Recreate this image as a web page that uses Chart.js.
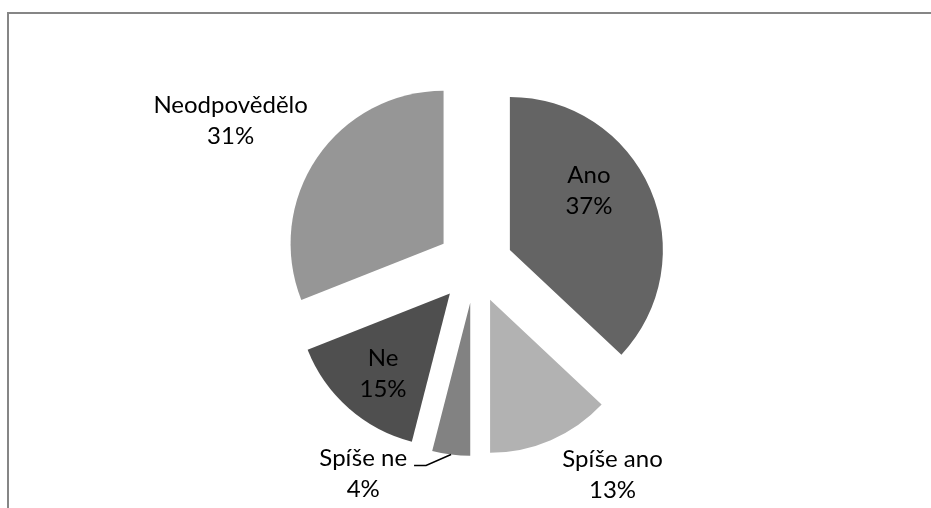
<!DOCTYPE html>
<html>
<head>
<meta charset="utf-8">
<script src="https://cdn.jsdelivr.net/npm/chart.js@4/dist/chart.umd.min.js"></script>
<style>
  html, body { margin: 0; padding: 0; background: #fff; }
  canvas { display: block; }
</style>
</head>
<body>
<canvas id="pie" width="931" height="508"></canvas>
<script>
const categories = ["Ano", "Spíše ano", "Spíše ne", "Ne", "Neodpovědělo"];
const percents = [37, 13, 4, 15, 31];
const sliceColors = ["#646464", "#b2b2b2", "#828282", "#4f4f4f", "#969696"];

// label placement, measured from the centre of its own pulled-out slice:
// deg clockwise from 12 o'clock, dist as a multiple of the pie radius
const labelSpots = [
  { deg: 53, dist: 0.647 },
  { deg: 145, dist: 1.395 },
  { deg: 212, dist: 1.32, leader: true },
  { deg: 220, dist: 0.68 },
  { deg: 300, dist: 1.607 },
];

const EXPLODE = 38;
const FONT = "24px Lato";

// pull every slice out along its middle angle
const explodePlugin = {
  id: "explode",
  afterDatasetsUpdate(chart) {
    chart.getDatasetMeta(0).data.forEach((arc) => {
      const mid = (arc.startAngle + arc.endAngle) / 2;
      arc.x += Math.cos(mid) * EXPLODE;
      arc.y += Math.sin(mid) * EXPLODE;
    });
  },
};

const framePlugin = {
  id: "frame",
  beforeDraw(chart) {
    const ctx = chart.ctx;
    ctx.save();
    ctx.strokeStyle = "#868686";
    ctx.lineWidth = 2;
    ctx.beginPath();
    ctx.moveTo(8, chart.height);
    ctx.lineTo(8, 13);
    ctx.lineTo(chart.width, 13);
    ctx.stroke();
    ctx.restore();
  },
};

const labelPlugin = {
  id: "sliceLabels",
  afterDatasetsDraw(chart) {
    const ctx = chart.ctx;
    ctx.save();
    ctx.font = FONT;
    ctx.fillStyle = "#000";
    ctx.textAlign = "center";
    ctx.textBaseline = "alphabetic";
    chart.getDatasetMeta(0).data.forEach((arc, i) => {
      const spot = labelSpots[i];
      const r = arc.outerRadius;
      const a = (spot.deg * Math.PI) / 180 - Math.PI / 2;
      const lx = arc.x + Math.cos(a) * spot.dist * r;
      const ly = arc.y + Math.sin(a) * spot.dist * r;
      const top = ly - 7.5;
      ctx.fillText(categories[i], lx, top);
      ctx.fillText(percents[i] + "%", lx, top + 31);
      if (spot.leader) {
        const mid = (arc.startAngle + arc.endAngle) / 2;
        const sx = arc.x + Math.cos(mid) * r;
        const sy = arc.y + Math.sin(mid) * r;
        const ex = lx + ctx.measureText(categories[i]).width / 2 + 7;
        const ey = top - 1;
        ctx.strokeStyle = "#000";
        ctx.lineWidth = 1.5;
        ctx.beginPath();
        ctx.moveTo(sx, sy);
        ctx.lineTo(ex + 12, ey);
        ctx.lineTo(ex, ey);
        ctx.stroke();
      }
    });
    ctx.restore();
  },
};

new Chart(document.getElementById("pie"), {
  type: "pie",
  data: {
    labels: categories,
    datasets: [
      {
        data: percents,
        backgroundColor: sliceColors,
        borderWidth: 0,
        radius: 153,
      },
    ],
  },
  options: {
    responsive: false,
    animation: false,
    events: [],
    layout: { padding: { left: 19, top: 22, right: 0, bottom: 0 } },
    plugins: {
      legend: { display: false },
      tooltip: { enabled: false },
    },
  },
  plugins: [framePlugin, explodePlugin, labelPlugin],
});
</script>
</body>
</html>
